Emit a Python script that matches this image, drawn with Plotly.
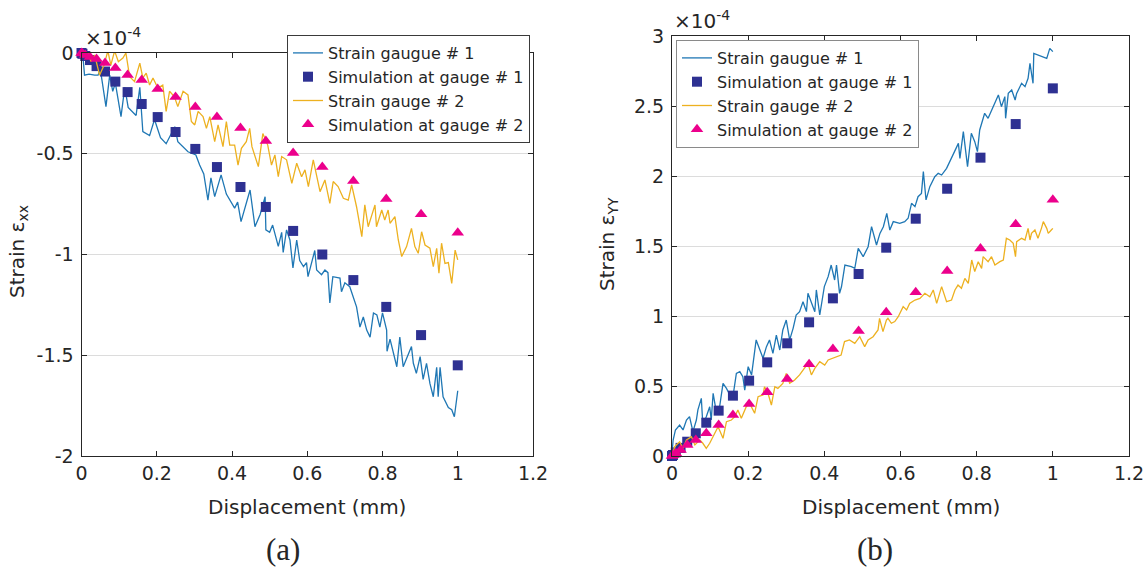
import plotly.graph_objects as go

# ---------------- data (strain in units of 1e-4, displacement in mm) ----------------
sim_disp = [0, 0.0025, 0.01, 0.0225, 0.04, 0.0625, 0.09, 0.1225, 0.16, 0.2025, 0.25,
            0.3025, 0.36, 0.4225, 0.49, 0.5625, 0.64, 0.7225, 0.81, 0.9025, 1.0]

sim1_xx = [0, -0.004, -0.015, -0.035, -0.065, -0.092, -0.142, -0.194, -0.253, -0.318, -0.392,
           -0.476, -0.566, -0.665, -0.764, -0.883, -1.0, -1.127, -1.26, -1.40, -1.55]
sim2_xx = [0, -0.003, -0.01, -0.02, -0.03, -0.05, -0.075, -0.109, -0.134, -0.179, -0.218,
           -0.268, -0.318, -0.372, -0.437, -0.496, -0.566, -0.635, -0.725, -0.80, -0.892]

sim1_yy = [0, 0.007, 0.026, 0.058, 0.102, 0.162, 0.238, 0.324, 0.431, 0.538, 0.669,
           0.805, 0.955, 1.126, 1.30, 1.488, 1.695, 1.909, 2.131, 2.371, 2.626]
sim2_yy = [0, 0.005, 0.02, 0.043, 0.079, 0.114, 0.162, 0.221, 0.293, 0.371, 0.455,
           0.55, 0.655, 0.764, 0.893, 1.026, 1.169, 1.321, 1.483, 1.655, 1.83]

gauge1_xx_disp = [0, 0.004, 0.008, 0.02, 0.035, 0.044, 0.05, 0.065, 0.075, 0.083, 0.09, 0.105,
                  0.115, 0.124, 0.145, 0.155, 0.163, 0.181, 0.194, 0.21, 0.225, 0.248, 0.256,
                  0.265, 0.283, 0.304, 0.314, 0.325, 0.336, 0.344, 0.354, 0.371, 0.385, 0.407,
                  0.415, 0.424, 0.448, 0.461, 0.475, 0.488, 0.49, 0.50, 0.508, 0.523, 0.532,
                  0.536, 0.545, 0.554, 0.562, 0.572, 0.58, 0.59, 0.598, 0.602, 0.612, 0.62,
                  0.625, 0.638, 0.647, 0.655, 0.66, 0.668, 0.687, 0.691, 0.70, 0.713, 0.731,
                  0.74, 0.749, 0.758, 0.767, 0.776, 0.785, 0.793, 0.80, 0.811, 0.812, 0.82,
                  0.838, 0.846, 0.855, 0.865, 0.877, 0.882, 0.89, 0.90, 0.908, 0.917, 0.926,
                  0.935, 0.944, 0.948, 0.953, 0.961, 0.975, 0.984, 0.991, 1.0]
gauge1_xx = [0, -0.02, -0.11, -0.105, -0.11, -0.11, -0.08, -0.266, -0.11, -0.19, -0.15, -0.316,
             -0.17, -0.27, -0.31, -0.17, -0.39, -0.41, -0.33, -0.42, -0.45, -0.366, -0.44,
             -0.457, -0.49, -0.506, -0.556, -0.60, -0.73, -0.62, -0.713, -0.605, -0.70, -0.77,
             -0.74, -0.837, -0.68, -0.862, -0.80, -0.713, -0.878, -0.89, -0.854, -0.96, -0.89,
             -0.99, -0.878, -0.928, -1.067, -0.928, -1.03, -1.06, -1.04, -1.11, -1.03, -0.98,
             -1.077, -1.10, -1.077, -1.09, -1.24, -1.11, -1.117, -1.185, -1.14, -1.16, -1.26,
             -1.36, -1.31, -1.375, -1.41, -1.29, -1.30, -1.36, -1.29, -1.375, -1.48, -1.42,
             -1.557, -1.41, -1.557, -1.507, -1.457, -1.54, -1.59, -1.507, -1.62, -1.54, -1.64,
             -1.706, -1.56, -1.706, -1.56, -1.706, -1.76, -1.77, -1.805, -1.676]

gauge2_xx_disp = [0, 0.005, 0.012, 0.025, 0.035, 0.048, 0.06, 0.07, 0.078, 0.088, 0.098, 0.11,
                  0.118, 0.128, 0.141, 0.155, 0.163, 0.172, 0.181, 0.19, 0.203, 0.216, 0.225,
                  0.234, 0.247, 0.256, 0.27, 0.283, 0.292, 0.301, 0.31, 0.323, 0.332, 0.341,
                  0.354, 0.363, 0.376, 0.385, 0.394, 0.407, 0.416, 0.425, 0.438, 0.447, 0.453,
                  0.47, 0.482, 0.495, 0.505, 0.514, 0.523, 0.532, 0.545, 0.559, 0.572, 0.585,
                  0.594, 0.603, 0.616, 0.625, 0.634, 0.647, 0.66, 0.669, 0.682, 0.696, 0.709,
                  0.718, 0.731, 0.745, 0.753, 0.762, 0.78, 0.784, 0.798, 0.806, 0.815, 0.82,
                  0.833, 0.842, 0.851, 0.864, 0.877, 0.886, 0.895, 0.904, 0.913, 0.926, 0.935,
                  0.944, 0.95, 0.957, 0.966, 0.975, 0.984, 0.993, 1.0]
gauge2_xx = [0, -0.02, 0.03, -0.043, -0.01, -0.11, -0.06, 0.01, -0.06, 0.01, -0.043, -0.025,
             0.0, -0.118, -0.142, -0.05, -0.124, -0.10, -0.159, -0.124, -0.174, -0.159, -0.29,
             -0.19, -0.217, -0.266, -0.19, -0.208, -0.34, -0.357, -0.29, -0.316, -0.374, -0.316,
             -0.44, -0.357, -0.465, -0.34, -0.457, -0.457, -0.556, -0.473, -0.44, -0.374, -0.465,
             -0.564, -0.40, -0.457, -0.556, -0.506, -0.614, -0.514, -0.53, -0.647, -0.547,
             -0.614, -0.58, -0.663, -0.53, -0.614, -0.688, -0.63, -0.746, -0.638, -0.663,
             -0.721, -0.73, -0.655, -0.763, -0.911, -0.754, -0.862, -0.754, -0.862, -0.779,
             -0.829, -0.779, -0.845, -0.812, -0.928, -1.01, -0.961, -0.87, -0.961, -0.994,
             -0.887, -0.953, -0.969, -1.06, -0.969, -1.093, -0.944, -1.044, -1.04, -1.143,
             -0.978, -1.027]

gauge1_yy_disp = [0, 0.003, 0.009, 0.02, 0.029, 0.038, 0.046, 0.055, 0.064, 0.068, 0.077, 0.081,
                  0.09, 0.099, 0.103, 0.108, 0.117, 0.125, 0.134, 0.143, 0.152, 0.16, 0.169,
                  0.178, 0.186, 0.191, 0.2, 0.209, 0.221, 0.23, 0.239, 0.248, 0.256, 0.265,
                  0.274, 0.283, 0.291, 0.30, 0.309, 0.318, 0.326, 0.335, 0.344, 0.353, 0.357,
                  0.375, 0.379, 0.388, 0.40, 0.41, 0.418, 0.427, 0.432, 0.44, 0.445, 0.454,
                  0.471, 0.48, 0.489, 0.502, 0.515, 0.524, 0.533, 0.537, 0.546, 0.555, 0.564,
                  0.572, 0.581, 0.598, 0.611, 0.62, 0.629, 0.638, 0.646, 0.655, 0.66, 0.667,
                  0.677, 0.69, 0.699, 0.708, 0.721, 0.734, 0.747, 0.752, 0.756, 0.765, 0.776,
                  0.786, 0.795, 0.802, 0.808, 0.812, 0.817, 0.821, 0.83, 0.839, 0.848, 0.857,
                  0.865, 0.874, 0.876, 0.883, 0.892, 0.901, 0.905, 0.918, 0.927, 0.935, 0.94,
                  0.944, 0.948, 0.95, 0.961, 0.975, 0.984, 0.992, 1.0]
gauge1_yy = [0.02, 0.114, 0.186, 0.221, 0.186, 0.257, 0.281, 0.174, 0.257, 0.329, 0.412, 0.221,
             0.281, 0.352, 0.257, 0.448, 0.305, 0.352, 0.519, 0.483, 0.436, 0.424, 0.59,
             0.602, 0.566, 0.471, 0.638, 0.579, 0.829, 0.757, 0.698, 0.781, 0.829, 0.733,
             0.864, 0.757, 0.90, 0.971, 0.829, 0.912, 1.007, 1.031, 1.102, 1.031, 1.162,
             1.031, 1.186, 1.007, 1.21, 1.281, 1.364, 1.257, 1.364, 1.162, 1.209, 1.364,
             1.352, 1.34, 1.483, 1.424, 1.495, 1.638, 1.543, 1.507, 1.59, 1.638, 1.733,
             1.614, 1.674, 1.662, 1.674, 1.698, 1.805, 1.781, 1.852, 1.876, 2.031, 1.829,
             1.924, 1.995, 2.019, 2.007, 2.055, 2.126, 2.198, 2.233, 2.126, 2.317, 2.067,
             2.305, 2.245, 2.174, 2.329, 2.364, 2.40, 2.448, 2.412, 2.471, 2.531, 2.579,
             2.495, 2.567, 2.412, 2.59, 2.614, 2.543, 2.59, 2.662, 2.638, 2.698, 2.805,
             2.721, 2.662, 2.876, 2.864, 2.852, 2.84, 2.912, 2.888]

gauge2_yy_disp = [0, 0.007, 0.02, 0.029, 0.038, 0.051, 0.06, 0.073, 0.081, 0.09, 0.099, 0.112,
                  0.121, 0.134, 0.143, 0.156, 0.165, 0.173, 0.182, 0.195, 0.204, 0.217, 0.226,
                  0.239, 0.243, 0.252, 0.261, 0.27, 0.278, 0.291, 0.30, 0.309, 0.322, 0.335,
                  0.344, 0.357, 0.366, 0.375, 0.388, 0.401, 0.41, 0.423, 0.436, 0.444, 0.453,
                  0.466, 0.48, 0.493, 0.506, 0.515, 0.528, 0.541, 0.545, 0.554, 0.563, 0.567,
                  0.576, 0.585, 0.594, 0.607, 0.616, 0.624, 0.638, 0.651, 0.664, 0.677, 0.686,
                  0.695, 0.708, 0.721, 0.734, 0.743, 0.751, 0.76, 0.769, 0.778, 0.787, 0.795,
                  0.804, 0.813, 0.817, 0.83, 0.839, 0.848, 0.861, 0.87, 0.878, 0.887, 0.896,
                  0.902, 0.905, 0.918, 0.927, 0.935, 0.94, 0.944, 0.953, 0.961, 0.97, 0.975,
                  0.984, 0.988, 0.996, 1.0]
gauge2_yy = [0.0, 0.067, 0.102, 0.055, 0.114, 0.138, 0.079, 0.114, 0.091, 0.055, 0.091, 0.162,
             0.209, 0.126, 0.245, 0.257, 0.281, 0.329, 0.269, 0.352, 0.376, 0.305, 0.424,
             0.436, 0.495, 0.448, 0.364, 0.495, 0.483, 0.519, 0.59, 0.519, 0.543, 0.579,
             0.614, 0.662, 0.579, 0.626, 0.674, 0.65, 0.686, 0.698, 0.709, 0.721, 0.817,
             0.829, 0.805, 0.852, 0.781, 0.829, 0.852, 0.90, 0.983, 0.888, 0.971, 0.983,
             0.948, 0.96, 0.995, 1.067, 1.043, 1.09, 1.114, 1.126, 1.162, 1.138, 1.186,
             1.09, 1.21, 1.102, 1.114, 1.186, 1.221, 1.198, 1.269, 1.233, 1.40, 1.317,
             1.388, 1.34, 1.424, 1.388, 1.424, 1.364, 1.388, 1.40, 1.555, 1.543, 1.519,
             1.424, 1.531, 1.555, 1.543, 1.626, 1.543, 1.59, 1.614, 1.555, 1.626, 1.674,
             1.626, 1.59, 1.614, 1.626]

legend_names = ["Strain gaugue # 1", "Simulation at gauge # 1",
                "Strain gauge # 2", "Simulation at gauge # 2"]

x_tickvals = [0, 0.2, 0.4, 0.6, 0.8, 1.0, 1.2]
x_ticktext = ["0", "0.2", "0.4", "0.6", "0.8", "1", "1.2"]
ya_tickvals = [-2, -1.5, -1, -0.5, 0]
ya_ticktext = ["-2", "-1.5", "-1", "-0.5", "0"]
yb_tickvals = [0, 0.5, 1, 1.5, 2, 2.5, 3]
yb_ticktext = ["0", "0.5", "1", "1.5", "2", "2.5", "3"]

# ---------------- styling ----------------
W, H = 1148, 569
BLUE = "#1f77b4"
GOLD = "#EDB120"
NAVY = "#2E3192"
PINK = "#EC008C"
INK = "#262626"
SANS = "DejaVu Sans, Verdana, sans-serif"
SERIF = "Liberation Serif, Times New Roman, serif"


def px(x):
    return x / W


def py(y):
    return 1 - y / H


fig = go.Figure()


def add_panel(xa, ya, legend, g1x, g1y, s1y, g2x, g2y, s2y):
    fig.add_trace(go.Scatter(x=g1x, y=g1y, mode="lines", name=legend_names[0],
                             line=dict(color=BLUE, width=1.3), xaxis=xa, yaxis=ya, legend=legend))
    fig.add_trace(go.Scatter(x=sim_disp, y=s1y, mode="markers", name=legend_names[1],
                             marker=dict(symbol="square", size=10, color=NAVY,
                                         line=dict(width=0)),
                             xaxis=xa, yaxis=ya, legend=legend, cliponaxis=False))
    fig.add_trace(go.Scatter(x=g2x, y=g2y, mode="lines", name=legend_names[2],
                             line=dict(color=GOLD, width=1.3), xaxis=xa, yaxis=ya, legend=legend))
    fig.add_trace(go.Scatter(x=sim_disp, y=s2y, mode="markers", name=legend_names[3],
                             marker=dict(symbol="triangle-up", size=11, color=PINK,
                                         line=dict(width=0)),
                             xaxis=xa, yaxis=ya, legend=legend, cliponaxis=False))


add_panel("x", "y", "legend", gauge1_xx_disp, gauge1_xx, sim1_xx,
          gauge2_xx_disp, gauge2_xx, sim2_xx)
add_panel("x2", "y2", "legend2", gauge1_yy_disp, gauge1_yy, sim1_yy,
          gauge2_yy_disp, gauge2_yy, sim2_yy)

axis_common = dict(showline=True, linecolor=INK, linewidth=1, mirror="ticks",
                   ticks="inside", ticklen=5, tickwidth=1, tickcolor=INK,
                   tickfont=dict(family=SANS, size=19, color=INK),
                   zeroline=False, automargin=False)
y_extra = dict(showgrid=True, gridcolor="#DCDCDC", gridwidth=1, ticklabelstandoff=3)

legend_common = dict(xanchor="left", yanchor="top", bgcolor="white", borderwidth=1,
                     font=dict(family=SANS, size=16, color=INK), tracegroupgap=0,
                     itemwidth=30)

# panel (a) box: x 81.5..533 px, y 53..456 px ; panel (b) box: x 672..1129 px, y 36..456 px
fig.update_layout(
    width=W, height=H,
    margin=dict(l=0, r=0, t=0, b=0, pad=0, autoexpand=False),
    paper_bgcolor="white", plot_bgcolor="white",
    font=dict(family=SANS, color=INK),
    xaxis=dict(domain=[px(81.5), px(533)], range=[0, 1.2], anchor="y",
               tickvals=x_tickvals, ticktext=x_ticktext, showgrid=False, **axis_common),
    yaxis=dict(domain=[py(456), py(53)], range=[-2, 0], anchor="x",
               tickvals=ya_tickvals, ticktext=ya_ticktext, **y_extra, **axis_common),
    xaxis2=dict(domain=[px(672), px(1129)], range=[0, 1.2], anchor="y2",
                tickvals=x_tickvals, ticktext=x_ticktext, showgrid=False, **axis_common),
    yaxis2=dict(domain=[py(456), py(36)], range=[0, 3], anchor="x2",
                tickvals=yb_tickvals, ticktext=yb_ticktext, **y_extra, **axis_common),
    legend=dict(x=px(287), y=py(35), bordercolor="#3a3a3a", **legend_common),
    legend2=dict(x=px(676), y=py(40), bordercolor="#8a8a8a", **legend_common),
)

annots = [
    dict(text="Displacement (mm)", x=px(307), y=py(507), font=dict(size=20)),
    dict(text="Displacement (mm)", x=px(900.5), y=py(507), font=dict(size=20)),
    dict(text="Strain ε<sub>xx</sub>", x=px(18), y=py(252), textangle=-90,
         font=dict(size=20)),
    dict(text="Strain ε<sub>YY</sub>", x=px(608), y=py(244), textangle=-90,
         font=dict(size=20)),
    dict(text="×10<sup>-4</sup>", x=px(83), y=py(52), xanchor="left", yanchor="bottom",
         font=dict(size=20)),
    dict(text="×10<sup>-4</sup>", x=px(672), y=py(35), xanchor="left", yanchor="bottom",
         font=dict(size=20)),
    dict(text="(a)", x=px(283), y=py(549), font=dict(family=SERIF, size=31)),
    dict(text="(b)", x=px(875), y=py(549), font=dict(family=SERIF, size=31)),
]
for a in annots:
    a.setdefault("xanchor", "center")
    a.setdefault("yanchor", "middle")
    a["font"].setdefault("family", SANS)
    a["font"].setdefault("color", INK)
    fig.add_annotation(xref="paper", yref="paper", showarrow=False, **a)

fig.write_html("out.html")
